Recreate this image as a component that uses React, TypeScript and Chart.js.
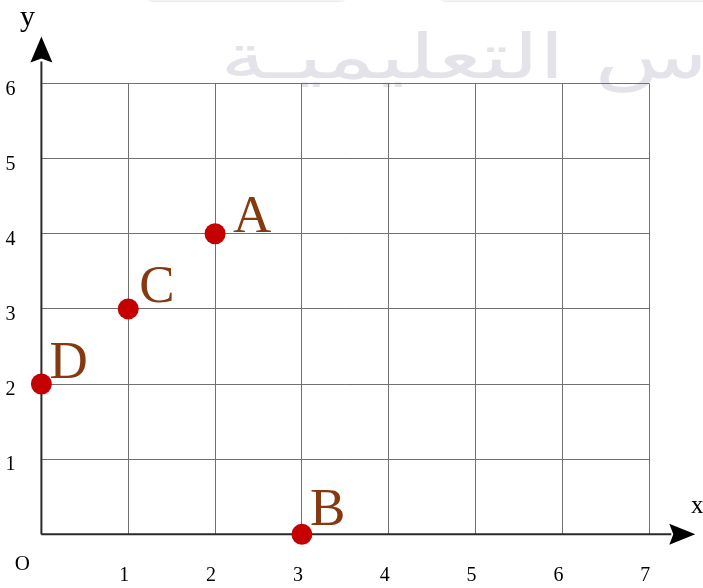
import React, { useEffect, useRef } from "react";
import { Chart, registerables } from "chart.js";

Chart.register(...registerables);

// ---- data ----
const pointNames = ["A", "B", "C", "D"];
const pointX = [2, 3, 1, 0];
const pointY = [4, 0, 3, 2];
const xTickValues = [0, 1, 2, 3, 4, 5, 6, 7];
const yTickValues = [0, 1, 2, 3, 4, 5, 6];
const xAxisTitle = "x";
const yAxisTitle = "y";
const originLabel = "O";
const watermarkText = "الأساس التعليميـة";

// ---- styles ----
const W = 703;
const H = 588;
const SERIF = '"Liberation Serif", "DejaVu Serif", serif';
const pointColor = "#c40000";
const labelColor = "#84390e";
const labelOffsets: Record<string, [number, number]> = {
  A: [18, -2],
  B: [8, -9],
  C: [11, -7],
  D: [8, -6],
};

const overlayPlugin = {
  id: "overlay",
  beforeDraw(chart: any) {
    const ctx = chart.ctx;
    ctx.save();
    ctx.fillStyle = "#ffffff";
    ctx.fillRect(0, 0, W, H);
    // faint header shapes of the watermark
    ctx.fillStyle = "#e9e9ee";
    ctx.beginPath();
    ctx.roundRect(140, -30, 213, 32, 14);
    ctx.roundRect(433, -30, 300, 32, 14);
    ctx.fill();
    ctx.fillStyle = "#ffffff";
    ctx.fillRect(0, -30, W, 30.5);
    // watermark text
    ctx.translate(220, 78);
    ctx.scale(1.5, 1);
    ctx.font = '62px "DejaVu Sans"';
    ctx.fillStyle = "#e3e3e9";
    ctx.direction = "rtl";
    ctx.textAlign = "left";
    ctx.textBaseline = "alphabetic";
    ctx.fillText(watermarkText, 0, 0);
    ctx.restore();
  },
  beforeDatasetsDraw(chart: any) {
    const ctx = chart.ctx;
    const { left, right, top, bottom } = chart.chartArea;
    const xs = chart.scales.x;
    const ys = chart.scales.y;
    const x0 = xs.getPixelForValue(0);
    const y0 = ys.getPixelForValue(0);
    ctx.save();
    ctx.strokeStyle = "#2a2a2a";
    ctx.lineWidth = 2;
    ctx.beginPath();
    ctx.moveTo(x0, bottom);
    ctx.lineTo(x0, top - 22);
    ctx.moveTo(left, y0);
    ctx.lineTo(right + 22, y0);
    ctx.stroke();
    ctx.fillStyle = "#000";
    // y arrow
    ctx.beginPath();
    ctx.moveTo(x0, top - 47);
    ctx.lineTo(x0 + 11, top - 21);
    ctx.lineTo(x0, top - 25);
    ctx.lineTo(x0 - 11, top - 21);
    ctx.closePath();
    ctx.fill();
    // x arrow
    ctx.beginPath();
    ctx.moveTo(right + 46, y0);
    ctx.lineTo(right + 20, y0 - 10.5);
    ctx.lineTo(right + 24, y0);
    ctx.lineTo(right + 20, y0 + 10.5);
    ctx.closePath();
    ctx.fill();
    // axis titles
    ctx.fillStyle = "#000";
    ctx.textAlign = "center";
    ctx.textBaseline = "alphabetic";
    ctx.font = `30px ${SERIF}`;
    ctx.fillText(yAxisTitle, x0 - 14, 26);
    ctx.font = `25px ${SERIF}`;
    ctx.fillText(xAxisTitle, right + 48, y0 - 21);
    ctx.font = `21px ${SERIF}`;
    ctx.fillText(originLabel, x0 - 19, y0 + 36);
    ctx.restore();
  },
  afterDatasetsDraw(chart: any) {
    const ctx = chart.ctx;
    const xs = chart.scales.x;
    const ys = chart.scales.y;
    ctx.save();
    ctx.fillStyle = labelColor;
    ctx.font = `53px ${SERIF}`;
    ctx.textAlign = "left";
    ctx.textBaseline = "alphabetic";
    pointNames.forEach((name, i) => {
      const px = xs.getPixelForValue(pointX[i]);
      const py = ys.getPixelForValue(pointY[i]);
      const [dx, dy] = labelOffsets[name] || [10, -6];
      ctx.fillText(name, px + dx, py + dy);
    });
    ctx.restore();
  },
};

export default function App() {
  const ref = useRef<HTMLCanvasElement | null>(null);

  useEffect(() => {
    if (!ref.current) return;
    const chart = new Chart(ref.current, {
      type: "scatter",
      data: {
        datasets: [
          {
            data: pointNames.map((_, i) => ({ x: pointX[i], y: pointY[i] })),
            pointRadius: 10.5,
            pointBackgroundColor: pointColor,
            pointBorderWidth: 0,
            clip: false as any,
          },
        ],
      },
      options: {
        animation: false,
        responsive: false,
        devicePixelRatio: 1,
        events: [],
        layout: { padding: { left: 0, top: 83.5, right: 53.7, bottom: 0 } },
        plugins: { legend: { display: false }, tooltip: { enabled: false } },
        scales: {
          x: {
            type: "linear",
            min: xTickValues[0],
            max: xTickValues[xTickValues.length - 1],
            afterBuildTicks: (s: any) => {
              s.ticks = xTickValues.map((v) => ({ value: v }));
            },
            afterFit: (s: any) => {
              s.height = 53.7;
            },
            grid: { color: "#707070", lineWidth: 1, drawTicks: false },
            border: { display: false },
            ticks: {
              padding: 29,
              labelOffset: -4,
              color: "#000",
              font: { family: SERIF, size: 20 },
              maxRotation: 0,
              autoSkip: false,
              callback: (v: any) => (Number(v) === 0 ? "" : String(v)),
            },
          },
          y: {
            type: "linear",
            min: yTickValues[0],
            max: yTickValues[yTickValues.length - 1],
            afterBuildTicks: (s: any) => {
              s.ticks = yTickValues.map((v) => ({ value: v }));
            },
            afterFit: (s: any) => {
              s.width = 41.4;
            },
            grid: { color: "#707070", lineWidth: 1, drawTicks: false },
            border: { display: false },
            ticks: {
              padding: 26,
              labelOffset: 6,
              color: "#000",
              font: { family: SERIF, size: 20 },
              autoSkip: false,
              callback: (v: any) => (Number(v) === 0 ? "" : String(v)),
            },
          },
        },
      },
      plugins: [overlayPlugin],
    });
    return () => chart.destroy();
  }, []);

  return (
    <div style={{ position: "fixed", left: 0, top: 0, width: W, height: H, background: "#fff" }}>
      <canvas ref={ref} width={W} height={H} style={{ display: "block" }} />
    </div>
  );
}
